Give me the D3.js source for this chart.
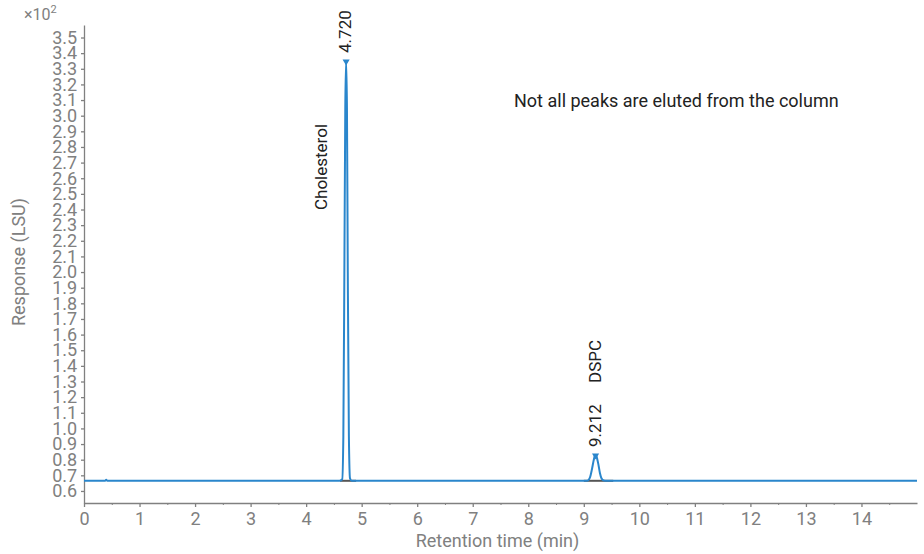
<!DOCTYPE html>
<html lang="en">
<head>
<meta charset="UTF-8">
<script src="https://d3js.org/d3.v7.min.js"></script>
<style>
  body { margin: 0; background: #fff; }
  svg text { font-family: Roboto, "Noto Sans", sans-serif; }
</style>
</head>
<body>
<div id="chart"></div>
<script>
// chromatogram trace, response in x10^2 LSU
var times = [0, 0.38, 0.40, 0.42, 4.60, 4.65, 4.67, 4.69, 4.705, 4.72, 4.735, 4.75, 4.77, 4.79, 4.82,
             9.06, 9.11, 9.15, 9.18, 9.20, 9.212, 9.23, 9.26, 9.29, 9.32, 9.36, 9.42, 15];
var response = [0.665, 0.665, 0.672, 0.665, 0.665, 0.675, 0.95, 2.1, 3.05, 3.35, 3.05, 2.0, 0.95, 0.68, 0.665,
                0.665, 0.685, 0.745, 0.80, 0.825, 0.83, 0.82, 0.775, 0.715, 0.68, 0.667, 0.665, 0.665];

// integration baselines under the peaks
var baseStart = [4.61, 9.0];
var baseEnd = [4.90, 9.53];

// peak annotations
var peakTimes = [4.720, 9.212];
var peakHeights = [3.35, 0.83];
var peakRtLabels = ["4.720", "9.212"];
var peakNames = ["Cholesterol", "DSPC"];

var xTicks = d3.range(0, 15, 1);
var xMinor = d3.range(0.5, 15, 1);
var yTicks = d3.range(6, 36).map(function (d) { return d / 10; });

var note = "Not all peaks are eluted from the column";

var W = 924, H = 554;
var margin = { top: 25, right: 7, bottom: 51, left: 84 };
var width = W - margin.left - margin.right;
var height = H - margin.top - margin.bottom;

var svg = d3.select("#chart").append("svg")
    .attr("width", W)
    .attr("height", H);

var g = svg.append("g")
    .attr("transform", "translate(" + margin.left + "," + margin.top + ")");

var x = d3.scaleLinear().domain([0, 15]).range([0, width]);
var y = d3.scaleLinear().domain([0.523, 3.58]).range([height, 0]);

var axisColor = "#808080";

// x axis
var xAxis = g.append("g")
    .attr("transform", "translate(0," + height + ")")
    .call(d3.axisBottom(x).tickValues(xTicks).tickFormat(d3.format("d")).tickSize(4).tickSizeOuter(0));
g.append("g")
    .attr("transform", "translate(0," + height + ")")
    .call(d3.axisBottom(x).tickValues(xMinor).tickFormat("").tickSize(2).tickSizeOuter(0))
    .select(".domain").remove();

// y axis
var yAxis = g.append("g")
    .call(d3.axisLeft(y).tickValues(yTicks).tickFormat(d3.format(".1f")).tickSize(3).tickSizeOuter(0));

[xAxis, yAxis].forEach(function (a) {
    a.selectAll("path, line").attr("stroke", axisColor).attr("stroke-width", 1.3);
    a.selectAll("text").attr("fill", axisColor).attr("font-size", 18);
});
g.selectAll(".tick line").attr("stroke", axisColor);
xAxis.selectAll("text").attr("dy", "0.85em");
yAxis.selectAll("text").attr("dx", "-0.05em");

// axis titles
svg.append("text")
    .attr("x", margin.left + x(7.5) - 3)
    .attr("y", 547)
    .attr("text-anchor", "middle")
    .attr("font-size", 18)
    .attr("fill", axisColor)
    .text("Retention time (min)");

svg.append("text")
    .attr("transform", "translate(25," + 262 + ") rotate(-90)")
    .attr("text-anchor", "middle")
    .attr("font-size", 18)
    .attr("fill", axisColor)
    .text("Response (LSU)");

var mult = svg.append("text")
    .attr("x", 24)
    .attr("y", 20)
    .attr("font-size", 16)
    .attr("fill", axisColor);
mult.append("tspan").text("×10");
mult.append("tspan").attr("font-size", 11).attr("dy", -7).text("2");

// integration baselines
baseStart.forEach(function (s, i) {
    var b = response[0];
    g.append("line")
        .attr("x1", x(s)).attr("x2", x(baseEnd[i]))
        .attr("y1", y(b)).attr("y2", y(b))
        .attr("stroke", "#555")
        .attr("stroke-width", 2);
});

// trace
var line = d3.line()
    .x(function (d, i) { return x(times[i]); })
    .y(function (d) { return y(d); })
    .curve(d3.curveMonotoneX);

g.append("path")
    .datum(response)
    .attr("d", line)
    .attr("fill", "none")
    .attr("stroke", "#2a86cc")
    .attr("stroke-width", 2);

// peak markers and labels
var tri = d3.symbol().type(d3.symbolTriangle).size(22);
peakTimes.forEach(function (t, i) {
    var px = x(t), py = y(peakHeights[i]);
    g.append("path")
        .attr("d", tri)
        .attr("transform", "translate(" + px + "," + (py + 0.5) + ") rotate(180)")
        .attr("fill", "#2a86cc");
    g.append("text")
        .attr("transform", "translate(" + (px + 5) + "," + (py - 8) + ") rotate(-90)")
        .attr("font-size", 17)
        .attr("fill", "#222")
        .text(peakRtLabels[i]);
});

g.append("text")
    .attr("transform", "translate(" + (x(4.720) - 19) + "," + (210 - margin.top) + ") rotate(-90)")
    .attr("font-size", 17)
    .attr("fill", "#222")
    .text(peakNames[0]);

g.append("text")
    .attr("transform", "translate(" + (x(9.212) + 5) + "," + (383 - margin.top) + ") rotate(-90)")
    .attr("font-size", 17)
    .attr("fill", "#222")
    .text(peakNames[1]);

svg.append("text")
    .attr("x", 514)
    .attr("y", 107)
    .attr("font-size", 18)
    .attr("fill", "#222")
    .text(note);
</script>
</body>
</html>
